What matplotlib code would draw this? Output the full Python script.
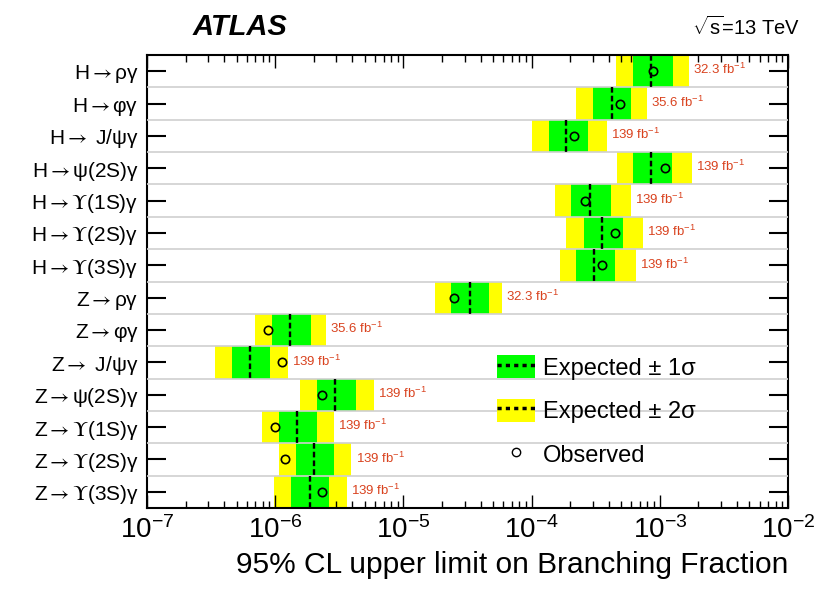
import matplotlib.pyplot as plt
from matplotlib.lines import Line2D
from matplotlib.patches import Patch
import numpy as np

# Channels, top to bottom (arrow and Upsilon drawn as math text in STIX)
channels = [
    r"H${\rightarrow}$ργ", r"H${\rightarrow}$φγ", r"H${\rightarrow}$ J/ψγ",
    r"H${\rightarrow}$ψ(2S)γ", r"H${\rightarrow}\Upsilon$(1S)γ",
    r"H${\rightarrow}\Upsilon$(2S)γ", r"H${\rightarrow}\Upsilon$(3S)γ",
    r"Z${\rightarrow}$ργ", r"Z${\rightarrow}$φγ", r"Z${\rightarrow}$ J/ψγ",
    r"Z${\rightarrow}$ψ(2S)γ", r"Z${\rightarrow}\Upsilon$(1S)γ",
    r"Z${\rightarrow}\Upsilon$(2S)γ", r"Z${\rightarrow}\Upsilon$(3S)γ",
]
lumi = ["32.3", "35.6", "139", "139", "139", "139", "139",
        "32.3", "35.6", "139", "139", "139", "139", "139"]

# 95% CL upper limits on branching fraction
expected = [8.5e-4, 4.22e-4, 1.87e-4, 8.5e-4, 2.84e-4, 3.52e-4, 3.05e-4,
            3.28e-5, 1.31e-6, 6.38e-7, 2.94e-6, 1.49e-6, 2.02e-6, 1.88e-6]
minus1 = [6.15e-4, 3.0e-4, 1.36e-4, 6.15e-4, 2.02e-4, 2.55e-4, 2.21e-4,
          2.33e-5, 9.48e-7, 4.61e-7, 2.13e-6, 1.07e-6, 1.46e-6, 1.33e-6]
plus1 = [1.26e-3, 5.93e-4, 2.74e-4, 1.24e-3, 4.14e-4, 5.14e-4, 4.45e-4,
         4.61e-5, 1.91e-6, 9.14e-7, 4.3e-6, 2.13e-6, 2.89e-6, 2.64e-6]
minus2 = [4.53e-4, 2.21e-4, 1.0e-4, 4.6e-4, 1.51e-4, 1.87e-4, 1.65e-4,
          1.75e-5, 6.98e-7, 3.4e-7, 1.57e-6, 7.9e-7, 1.07e-6, 9.8e-7]
plus2 = [1.69e-3, 7.9e-4, 3.86e-4, 1.78e-3, 5.93e-4, 7.36e-4, 6.5e-4,
         5.84e-5, 2.5e-6, 1.26e-6, 5.93e-6, 2.89e-6, 3.93e-6, 3.65e-6]
observed = [8.8e-4, 4.87e-4, 2.13e-4, 1.09e-3, 2.6e-4, 4.45e-4, 3.52e-4,
            2.5e-5, 8.8e-7, 1.13e-6, 2.33e-6, 1.0e-6, 1.2e-6, 2.33e-6]

plt.rcParams["font.family"] = ["Liberation Sans", "DejaVu Sans"]
plt.rcParams["mathtext.fontset"] = "custom"
plt.rcParams["mathtext.rm"] = "Liberation Sans"
plt.rcParams["mathtext.it"] = "Liberation Sans:italic"

fig = plt.figure(figsize=(8.15, 5.91), dpi=100)
ax = fig.add_axes([0.1804, 0.1404, 0.7865, 0.7665])

y = np.arange(len(channels))
m2, p2 = np.array(minus2), np.array(plus2)
m1, p1 = np.array(minus1), np.array(plus1)

# bands
ax.barh(y, p2 - m2, left=m2, height=1.0, color="#ffff00", lw=0, zorder=1)
ax.barh(y, p1 - m1, left=m1, height=1.0, color="#00ff00", lw=0, zorder=2)

# row separators
for i in range(len(channels) - 1):
    ax.axhline(i + 0.5, color="#d0d0d0", lw=1.2, zorder=3)

# expected (dashed) and observed
ax.vlines(expected, y - 0.5, y + 0.5, colors="black", lw=1.7,
          linestyles=(0, (2.4, 1.3)), zorder=4)
ax.plot(observed, y, "o", mfc="none", mec="black", mew=1.2, ms=6, zorder=5)

# luminosity labels
for yi, x, lab in zip(y, plus2, lumi):
    ax.annotate(lab + r" fb$^{-1}$", (x, yi), xytext=(3, 1), textcoords="offset points",
                color="#d9421e", fontsize=9.5, va="center", ha="left", zorder=6)

ax.set_xscale("log")
ax.set_xlim(1e-7, 1e-2)
ax.set_ylim(len(channels) - 0.5, -0.5)
ax.set_yticks(y)
ax.set_yticklabels(channels, fontsize=15)
for t in ax.get_yticklabels():
    t.set_math_fontfamily("stix")
ax.set_xticks([1e-7, 1e-6, 1e-5, 1e-4, 1e-3, 1e-2])
ax.set_xticklabels([r"$10^{-7}$", r"$10^{-6}$", r"$10^{-5}$", r"$10^{-4}$",
                    r"$10^{-3}$", r"$10^{-2}$"], fontsize=20)
ax.tick_params(axis="x", which="major", direction="in", top=True, length=9.5, width=1, pad=6)
ax.tick_params(axis="x", which="minor", direction="in", top=True, length=5, width=1)
ax.tick_params(axis="y", which="major", direction="in", right=True, length=14, width=1.5, pad=6)
for s in ax.spines.values():
    s.set_linewidth(1.5)

ax.set_xlabel("95% CL upper limit on Branching Fraction", fontsize=21.5, loc="right", labelpad=5)

# legend
handles = [
    (Patch(facecolor="#00ff00", lw=0), Line2D([], [], color="black", lw=2.5, ls=(0, (1.2, 1.2)))),
    (Patch(facecolor="#ffff00", lw=0), Line2D([], [], color="black", lw=2.5, ls=(0, (1.2, 1.2)))),
    Line2D([], [], ls="none", marker="o", mfc="none", mec="black", ms=6),
]
labels = ["Expected \u00b1 1\u03c3", "Expected \u00b1 2\u03c3", "Observed"]
ax.legend(handles, labels, loc="upper left", bbox_to_anchor=(497 / 815, 1 - 355 / 591),
          bbox_transform=fig.transFigure, frameon=False, fontsize=17, borderpad=0,
          handlelength=1.6, handleheight=1.15, handletextpad=0.35, labelspacing=0.8,
          borderaxespad=0)

fig.text(193 / 815, 1 - 27 / 591, "ATLAS", fontsize=21, fontweight="bold", fontstyle="italic",
         va="center")
fig.text(800 / 815, 1 - 27 / 591, r"$\sqrt{\mathrm{s}}$=13 TeV", fontsize=14.5, ha="right", va="center")

plt.savefig("out.png", dpi=100)
